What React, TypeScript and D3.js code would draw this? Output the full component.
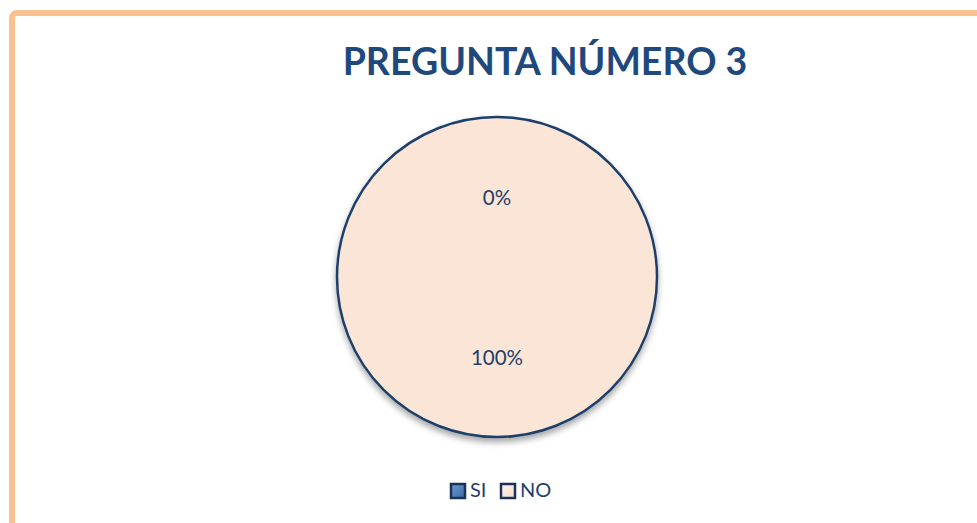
import React, { useRef, useEffect } from "react";
import * as d3 from "d3";

const title = "PREGUNTA NÚMERO 3";
const categories = ["SI", "NO"];
const values = [0, 100];
const labels = ["0%", "100%"];
const colors = ["#4F81BD", "#FBE5D6"];

const App = () => {
  const svgRef = useRef<SVGSVGElement>(null);

  useEffect(() => {
    if (!svgRef.current) return;

    const width = 977;
    const height = 523;
    const cx = 497;
    const cy = 277;
    const radius = 160;

    const svg = d3.select(svgRef.current).attr("width", width).attr("height", height);
    svg.selectAll("*").remove();

    const defs = svg.append("defs");
    const shadow = defs
      .append("filter")
      .attr("id", "pie-shadow")
      .attr("x", "-20%")
      .attr("y", "-20%")
      .attr("width", "140%")
      .attr("height", "140%");
    shadow
      .append("feDropShadow")
      .attr("dx", 0)
      .attr("dy", 4)
      .attr("stdDeviation", 3)
      .attr("flood-color", "#000")
      .attr("flood-opacity", 0.35);

    // legend square gradients
    const grads = [
      ["#6F9AD0", "#3A6AA8"],
      ["#FFF2EA", "#F6DCCB"],
    ];
    grads.forEach((g, i) => {
      const lg = defs
        .append("linearGradient")
        .attr("id", `leg-grad-${i}`)
        .attr("x1", "0%")
        .attr("y1", "0%")
        .attr("x2", "100%")
        .attr("y2", "100%");
      lg.append("stop").attr("offset", "0%").attr("stop-color", g[0]);
      lg.append("stop").attr("offset", "100%").attr("stop-color", g[1]);
    });

    // Outer frame
    svg
      .append("rect")
      .attr("x", 12)
      .attr("y", 13)
      .attr("width", 1100)
      .attr("height", 700)
      .attr("rx", 5)
      .attr("fill", "none")
      .attr("stroke", "#FAC090")
      .attr("stroke-width", 6);

    // Title
    svg
      .append("text")
      .attr("x", 545)
      .attr("y", 75)
      .attr("text-anchor", "middle")
      .style("font-family", "Lato, 'Open Sans', sans-serif")
      .style("font-weight", "bold")
      .style("font-size", "37.5px")
      .attr("fill", "#1F497D")
      .text(title);

    const pie = d3
      .pie<number>()
      .sort(null)
      .value((d) => d);
    const arcs = pie(values);
    const arc = d3.arc<d3.PieArcDatum<number>>().innerRadius(0).outerRadius(radius);
    const labelArc = d3
      .arc<d3.PieArcDatum<number>>()
      .innerRadius(radius * 0.5)
      .outerRadius(radius * 0.5);

    const g = svg.append("g").attr("transform", `translate(${cx},${cy})`);

    g.selectAll("path.slice")
      .data(arcs)
      .join("path")
      .attr("class", "slice")
      .attr("d", arc)
      .attr("fill", (_, i) => colors[i])
      .attr("stroke", "#1F3F6A")
      .attr("stroke-width", (d) => (d.endAngle - d.startAngle > 0 ? 2.5 : 0))
      .attr("filter", "url(#pie-shadow)");

    g.selectAll("text.lbl")
      .data(arcs)
      .join("text")
      .attr("class", "lbl")
      .attr("transform", (d) => {
        const [x, y] = labelArc.centroid(d);
        return `translate(${x},${y + 3})`;
      })
      .attr("text-anchor", "middle")
      .attr("dominant-baseline", "middle")
      .style("font-family", "Lato, 'Open Sans', sans-serif")
      .style("font-size", "20.5px")
      .attr("fill", "#1F3F6A")
      .text((_, i) => labels[i]);

    // Legend
    const legendX = [451, 501];
    const legend = svg
      .append("g")
      .selectAll("g")
      .data(categories)
      .join("g")
      .attr("transform", (_, i) => `translate(${legendX[i]},484)`);
    legend
      .append("rect")
      .attr("width", 14)
      .attr("height", 14)
      .attr("fill", (_, i) => `url(#leg-grad-${i})`)
      .attr("stroke", "#1B3358")
      .attr("stroke-width", 2.5);
    legend
      .append("text")
      .attr("x", 19)
      .attr("y", 12.5)
      .style("font-family", "Lato, 'Open Sans', sans-serif")
      .style("font-size", "20px")
      .attr("fill", "#1F3F6A")
      .text((d) => d);
  }, []);

  return (
    <svg
      ref={svgRef}
      style={{ position: "absolute", left: 0, top: 0, background: "#fff" }}
    ></svg>
  );
};

export default App;
